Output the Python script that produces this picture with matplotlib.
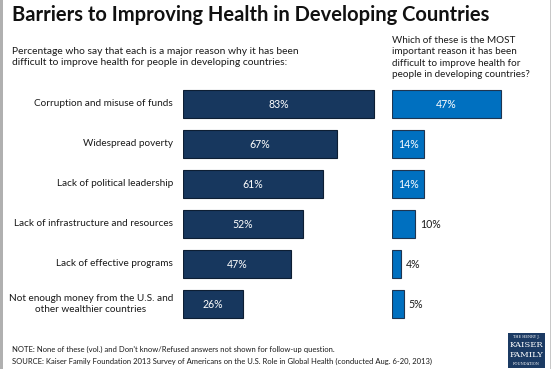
import matplotlib
matplotlib.use("Agg")
import matplotlib.pyplot as plt
from matplotlib.patches import Rectangle

categories = [
    "Corruption and misuse of funds",
    "Widespread poverty",
    "Lack of political leadership",
    "Lack of infrastructure and resources",
    "Lack of effective programs",
    "Not enough money from the U.S. and\nother wealthier countries",
]
major_reason = [83, 67, 61, 52, 47, 26]
most_important = [47, 14, 14, 10, 4, 5]

title = "Barriers to Improving Health in Developing Countries"
left_sub = ("Percentage who say that each is a major reason why it has been\n"
            "difficult to improve health for people in developing countries:")
right_sub = ("Which of these is the MOST\nimportant reason it has been\n"
             "difficult to improve health for\npeople in developing countries?")
note = "NOTE: None of these (vol.) and Don't know/Refused answers not shown for follow-up question."
source = ("SOURCE: Kaiser Family Foundation 2013 Survey of Americans on the U.S. Role in Global Health "
          "(conducted Aug. 6-20, 2013)")

W, H = 553, 369
plt.rcParams['font.family'] = ['Lato', 'DejaVu Sans']
fig = plt.figure(figsize=(W / 100, H / 100), dpi=100)
fig.patch.set_facecolor("white")

def fx(px):
    return px / W

def fy(py):
    return 1 - py / H

# borders
fig.add_artist(Rectangle((0, 0), fx(2.5), 1, transform=fig.transFigure,
                         facecolor="#b0b0b0", edgecolor="none"))
fig.add_artist(Rectangle((fx(549.5), 0), fx(1), 1, transform=fig.transFigure,
                         facecolor="#c8c8c8", edgecolor="none"))

navy = "#17375e"
blue = "#0070c0"
edge = "#0d1e33"

slot = 40.0
top = 84.0
n = len(categories)
ypos = list(range(n))

def make_axes(x0, width_px, scale):
    ax = fig.add_axes([fx(x0), fy(top + n * slot), fx(width_px), (n * slot) / H])
    ax.set_xlim(0, width_px / scale)
    ax.set_ylim(n - 0.5, -0.5)
    ax.axis("off")
    return ax

ax1 = make_axes(183, 200, 2.30)
ax1.barh(ypos, major_reason, height=0.68, color=navy, edgecolor=edge, linewidth=0.8)
for y, v in zip(ypos, major_reason):
    ax1.text(v / 2, y, f"{v}%", color="white", ha="center", va="center", fontsize=7.6)
for y, c in zip(ypos, categories):
    ax1.text(-4.3, y, c, ha="right", va="center", fontsize=7.2, color="#1a1a1a",
             multialignment="center", linespacing=1.3)

ax2 = make_axes(392, 150, 2.32)
ax2.barh(ypos, most_important, height=0.68, color=blue, edgecolor="#1f3550", linewidth=0.8)
for y, v in zip(ypos, most_important):
    if v >= 12:
        ax2.text(v / 2, y, f"{v}%", color="white", ha="center", va="center", fontsize=7.6)
    else:
        ax2.text(v + 2.0, y, f"{v}%", color="#1a1a1a", ha="left", va="center", fontsize=7.6)

fig.text(fx(12), fy(15), title, fontsize=14.5, fontweight="bold", color="#111111",
         ha="left", va="center")
fig.text(fx(12), fy(57), left_sub, fontsize=7.4, color="#1a1a1a", ha="left", va="center",
         linespacing=1.35)
fig.text(fx(392), fy(57.5), right_sub, fontsize=7.15, color="#1a1a1a", ha="left", va="center",
         linespacing=1.3)
fig.text(fx(12), fy(349), note, fontsize=5.5, color="#1a1a1a", ha="left", va="center")
fig.text(fx(12), fy(361), source, fontsize=5.5, color="#1a1a1a", ha="left", va="center")

# logo
fig.add_artist(Rectangle((fx(508), fy(368)), fx(37), (368 - 333) / H, transform=fig.transFigure,
                         facecolor="#1b3a63", edgecolor="none"))
fig.text(fx(526.5), fy(337), "THE HENRY J.", fontsize=2.6, color="white", ha="center",
         va="center", family="DejaVu Serif")
fig.text(fx(526.5), fy(345), "KAISER", fontsize=6.0, color="white", ha="center",
         va="center", family="DejaVu Serif")
fig.text(fx(526.5), fy(355), "FAMILY", fontsize=6.0, color="white", ha="center",
         va="center", family="DejaVu Serif")
fig.text(fx(526.5), fy(364), "FOUNDATION", fontsize=2.6, color="white", ha="center",
         va="center", family="DejaVu Serif")

fig.savefig("out.png", dpi=100, facecolor="white")
